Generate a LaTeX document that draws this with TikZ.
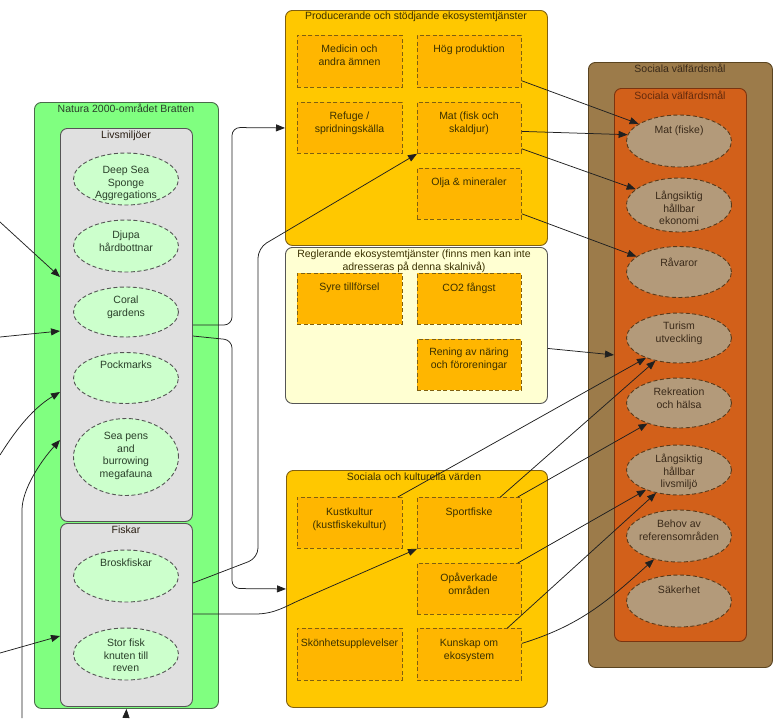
\documentclass[tikz,border=0pt]{standalone}
\usepackage{fontspec}
\setmainfont{Liberation Sans}
\usetikzlibrary{arrows.meta,calc,shapes.geometric}
\definecolor{grn}{HTML}{80FF80}
\definecolor{grnedge}{HTML}{4A6A4A}
\definecolor{greyfill}{HTML}{E0E0E0}
\definecolor{edge}{HTML}{555555}
\definecolor{lgrn}{HTML}{CCFFCC}
\definecolor{gold}{HTML}{FFC800}
\definecolor{goldedge}{HTML}{806010}
\definecolor{inner}{HTML}{FFB600}
\definecolor{pale}{HTML}{FFFFD2}
\definecolor{brownbg}{HTML}{9C7B4A}
\definecolor{brownedge}{HTML}{5A4420}
\definecolor{orng}{HTML}{D2601A}
\definecolor{orngedge}{HTML}{7A3410}
\definecolor{tan}{HTML}{B39A7A}
\definecolor{tanedge}{HTML}{5A3A1A}
\definecolor{linec}{HTML}{202020}
\definecolor{txtgreen}{HTML}{2A3F2A}
\definecolor{txtgold}{HTML}{3A3000}
\definecolor{txtbrown}{HTML}{3A2A1A}
\begin{document}
\begin{tikzpicture}[x=1pt,y=1pt,
  every node/.style={font=\fontsize{10.5}{12.5}\selectfont},
  rect/.style={rectangle,inner sep=0pt,anchor=north west},
  greenbox/.style={rect,rounded corners=7pt,draw=grnedge,line width=0.9pt,fill=grn},
  greybox/.style={rect,rounded corners=7pt,draw=edge,line width=0.9pt,fill=greyfill},
  goldbox/.style={rect,rounded corners=7pt,draw=goldedge,line width=0.9pt,fill=gold},
  palebox/.style={rect,rounded corners=7pt,draw=edge,line width=0.9pt,fill=pale},
  brownbox/.style={rect,rounded corners=7pt,draw=brownedge,line width=0.9pt,fill=brownbg},
  orngbox/.style={rect,rounded corners=7pt,draw=orngedge,line width=0.9pt,fill=orng},
  dbox/.style={rect,draw=goldedge,dash pattern=on 4pt off 2.5pt,line width=0.8pt,fill=inner},
  gell/.style={ellipse,inner sep=0pt,draw=edge,dash pattern=on 4pt off 2.5pt,line width=0.9pt,fill=lgrn,minimum width=105pt},
  tell/.style={ellipse,inner sep=0pt,draw=tanedge,dash pattern=on 4pt off 2.5pt,line width=0.9pt,fill=tan,minimum width=105pt},
  txt/.style={anchor=north,inner sep=0pt,align=center},
  conn/.style={draw=linec,line width=0.75pt,-{Triangle[length=9pt,width=7pt]}}]
\useasboundingbox (0,0) rectangle (778,-718);

% ---------- left column ----------
\node[greenbox,minimum width=184pt,minimum height=606pt] (green) at (34,-102) {};
\node[greybox,minimum width=132pt,minimum height=393pt] (livs) at (60,-128) {};
\node[greybox,minimum width=132pt,minimum height=183pt] (fisk) at (60,-523) {};
\node[txt,text=txtgreen] (tgreen) at (126,-104) {Natura 2000-området Bratten};
\node[txt,text=txtbrown!70!black] (tlivs) at (126,-131) {Livsmiljöer};
\node[txt,text=txtbrown!70!black] (tfisk) at (126,-526) {Fiskar};

\node[gell,minimum height=52pt] (deep) at (126,-179) {};
\node[gell,minimum height=52pt] (djupa) at (126,-246) {};
\node[gell,minimum height=50pt] (coral) at (126,-312) {};
\node[gell,minimum height=51pt] (pock) at (126,-378) {};
\node[gell,minimum height=77pt] (sea) at (126,-457) {};
\node[gell,minimum height=52pt] (brosk) at (126,-576) {};
\node[gell,minimum height=52pt] (stor) at (126,-654) {};
\node[txt,text=txtgreen] (tdeep) at (126,-166) {Deep Sea\\Sponge\\Aggregations};
\node[txt,text=txtgreen] (tdjupa) at (126,-231) {Djupa\\hårdbottnar};
\node[txt,text=txtgreen] (tcoral) at (126,-296) {Coral\\gardens};
\node[txt,text=txtgreen] (tpock) at (126,-361) {Pockmarks};
\node[txt,text=txtgreen] (tsea) at (126,-432) {Sea pens\\and\\burrowing\\megafauna};
\node[txt,text=txtgreen] (tbrosk) at (126,-559) {Broskfiskar};
\node[txt,text=txtgreen] (tstor) at (126,-639) {Stor fisk\\knuten till\\reven};

% ---------- middle column ----------
\node[goldbox,minimum width=262pt,minimum height=235pt] (prod) at (285,-10) {};
\node[txt,text=txtgold] (tprod) at (416,-12) {Producerande och stödjande ekosystemtjänster};
\node[dbox,minimum width=105pt,minimum height=52pt] (med) at (297,-35) {};
\node[dbox,minimum width=104pt,minimum height=52pt] (hog) at (417,-35) {};
\node[dbox,minimum width=105pt,minimum height=51pt] (refu) at (297,-102) {};
\node[dbox,minimum width=104pt,minimum height=51pt] (matfs) at (417,-102) {};
\node[dbox,minimum width=104pt,minimum height=51pt] (olja) at (417,-168) {};
\node[txt,text=txtgold] (tmed) at (349.5,-45) {Medicin och\\andra ämnen};
\node[txt,text=txtgold] (thog) at (469,-45) {Hög produktion};
\node[txt,text=txtgold] (trefu) at (349.5,-112) {Refuge /\\spridningskälla};
\node[txt,text=txtgold] (tmatfs) at (469,-112) {Mat (fisk och\\skaldjur)};
\node[txt,text=txtgold] (tolja) at (469,-178) {Olja \& mineraler};

\node[palebox,minimum width=262pt,minimum height=156pt] (reg) at (285,-247) {};
\node[txt,text=txtgold] (treg) at (414,-250) {Reglerande ekosystemtjänster (finns men kan inte\\adresseras på denna skalnivå)};
\node[dbox,minimum width=105pt,minimum height=51pt] (syre) at (297,-273) {};
\node[dbox,minimum width=104pt,minimum height=51pt] (co2) at (417,-273) {};
\node[dbox,minimum width=104pt,minimum height=51pt] (ren) at (417,-339) {};
\node[txt,text=txtgold] (tsyre) at (349.5,-283) {Syre tillförsel};
\node[txt,text=txtgold] (tco2) at (469,-283) {CO2 fångst};
\node[txt,text=txtgold] (tren) at (469,-348) {Rening av näring\\och föroreningar};

\node[goldbox,minimum width=261pt,minimum height=237pt] (soc) at (286,-470) {};
\node[txt,text=txtgold] (tsoc) at (414,-473) {Sociala och kulturella värden};
\node[dbox,minimum width=105pt,minimum height=51pt] (kust) at (297,-497) {};
\node[dbox,minimum width=104pt,minimum height=51pt] (sport) at (417,-497) {};
\node[dbox,minimum width=104pt,minimum height=51pt] (opa) at (417,-563) {};
\node[dbox,minimum width=105pt,minimum height=52pt] (skon) at (297,-628) {};
\node[dbox,minimum width=104pt,minimum height=52pt] (kun) at (417,-628) {};
\node[txt,text=txtgold] (tkust) at (349.5,-508) {Kustkultur\\(kustfiskekultur)};
\node[txt,text=txtgold] (tsport) at (469,-508) {Sportfiske};
\node[txt,text=txtgold] (topa) at (469,-573) {Opåverkade\\områden};
\node[txt,text=txtgold] (tskon) at (349.5,-639) {Skönhetsupplevelser};
\node[txt,text=txtgold] (tkun) at (469,-639) {Kunskap om\\ekosystem};

% ---------- right column ----------
\node[brownbox,minimum width=184pt,minimum height=605pt] (brown) at (588,-62) {};
\node[orngbox,minimum width=132pt,minimum height=553pt] (orange) at (614,-88) {};
\node[txt,text=txtbrown] (tbrown) at (680,-64) {Sociala välfärdsmål};
\node[txt,text=orngedge!80!black] (torange) at (680,-91) {Sociala välfärdsmål};

\node[tell,minimum height=52pt] (matf) at (679,-141) {};
\node[tell,minimum height=54pt] (eko) at (679,-205) {};
\node[tell,minimum height=51pt] (rav) at (679,-272) {};
\node[tell,minimum height=50pt] (tur) at (679,-338) {};
\node[tell,minimum height=50pt] (rek) at (679,-403) {};
\node[tell,minimum height=50pt] (liv) at (679,-470) {};
\node[tell,minimum height=52pt] (beh) at (679,-536) {};
\node[tell,minimum height=52pt] (sak) at (679,-601) {};
\node[txt,text=txtbrown] (tmatf) at (679,-126) {Mat (fiske)};
\node[txt,text=txtbrown] (teko) at (679,-191) {Långsiktig\\hållbar\\ekonomi};
\node[txt,text=txtbrown] (trav) at (679,-258) {Råvaror};
\node[txt,text=txtbrown] (ttur) at (679,-322) {Turism\\utveckling};
\node[txt,text=txtbrown] (trek) at (679,-388) {Rekreation\\och hälsa};
\node[txt,text=txtbrown] (tliv) at (679,-454) {Långsiktig\\hållbar\\livsmiljö};
\node[txt,text=txtbrown] (tbeh) at (679,-520) {Behov av\\referensområden};
\node[txt,text=txtbrown] (tsak) at (679,-586) {Säkerhet};

% ---------- free ends ----------
\coordinate (c1) at (0,-222);
\coordinate (c2) at (0,-337);
\coordinate (c3) at (0,-455);
\coordinate (c4) at (22,-718);
\coordinate (c5) at (0,-653);
\coordinate (c6) at (126,-718);

% ---------- connectors: left ----------
\draw[conn] (c1) -- ([yshift=-149pt]livs.north west);
\draw[conn] (c2) -- ([yshift=-203pt]livs.north west);
\draw[conn] (c3) .. controls (12,-436) and (30,-410) .. ([yshift=-264pt]livs.north west);
\draw[conn] (c4) -- (22,-510) .. controls (22,-490) and (40,-462) .. ([yshift=-312pt]livs.north west);
\draw[conn] (c5) -- ([yshift=-113pt]fisk.north west);
\draw[conn] (c6) -- (green.south);

% ---------- connectors: left to middle ----------
\draw[conn,rounded corners=8pt] ([yshift=-197pt]livs.north east) -- (232,-325) -- (232,-127.5) -- (prod.west);
\draw[conn,rounded corners=8pt] ([yshift=-208pt]livs.north east) -- (232,-340) -- (232,-588.5) -- (soc.west);
\draw[conn,rounded corners=10pt] ([yshift=-60pt]fisk.north east) -- (258,-558) -- (258,-248) -- (matfs.south west);
\draw[conn] ([yshift=-91pt]fisk.north east) -- (255,-614) .. controls (275,-614) and (286,-606) .. (300,-600) -- (sport.south west);

% ---------- connectors: middle to right ----------
\draw[conn] ([yshift=7pt]hog.south east) -- (matf.157.6);
\draw[conn] ([yshift=-3.5pt]matfs.east) -- (matf.173.5);
\draw[conn] ([yshift=5pt]matfs.south east) -- (eko.160);
\draw[conn] ([yshift=6pt]olja.south east) -- (rav.160);
\draw[conn] ([yshift=-23pt]reg.east) -- ([yshift=10pt]orange.west);
\draw[conn] ([xshift=-5pt]kust.north east) -- (tur.211);
\draw[conn] ([xshift=31pt]sport.north) -- (tur.224);
\draw[conn] ([xshift=-4pt]sport.north east) -- (rek.213);
\draw[conn] ([xshift=-4pt]opa.north east) -- (liv.211);
\draw[conn] ([xshift=38pt]kun.north) -- (liv.225);
\draw[conn] ([yshift=11pt]kun.east) to[out=17,in=222] (beh.223);
\end{tikzpicture}
\end{document}
